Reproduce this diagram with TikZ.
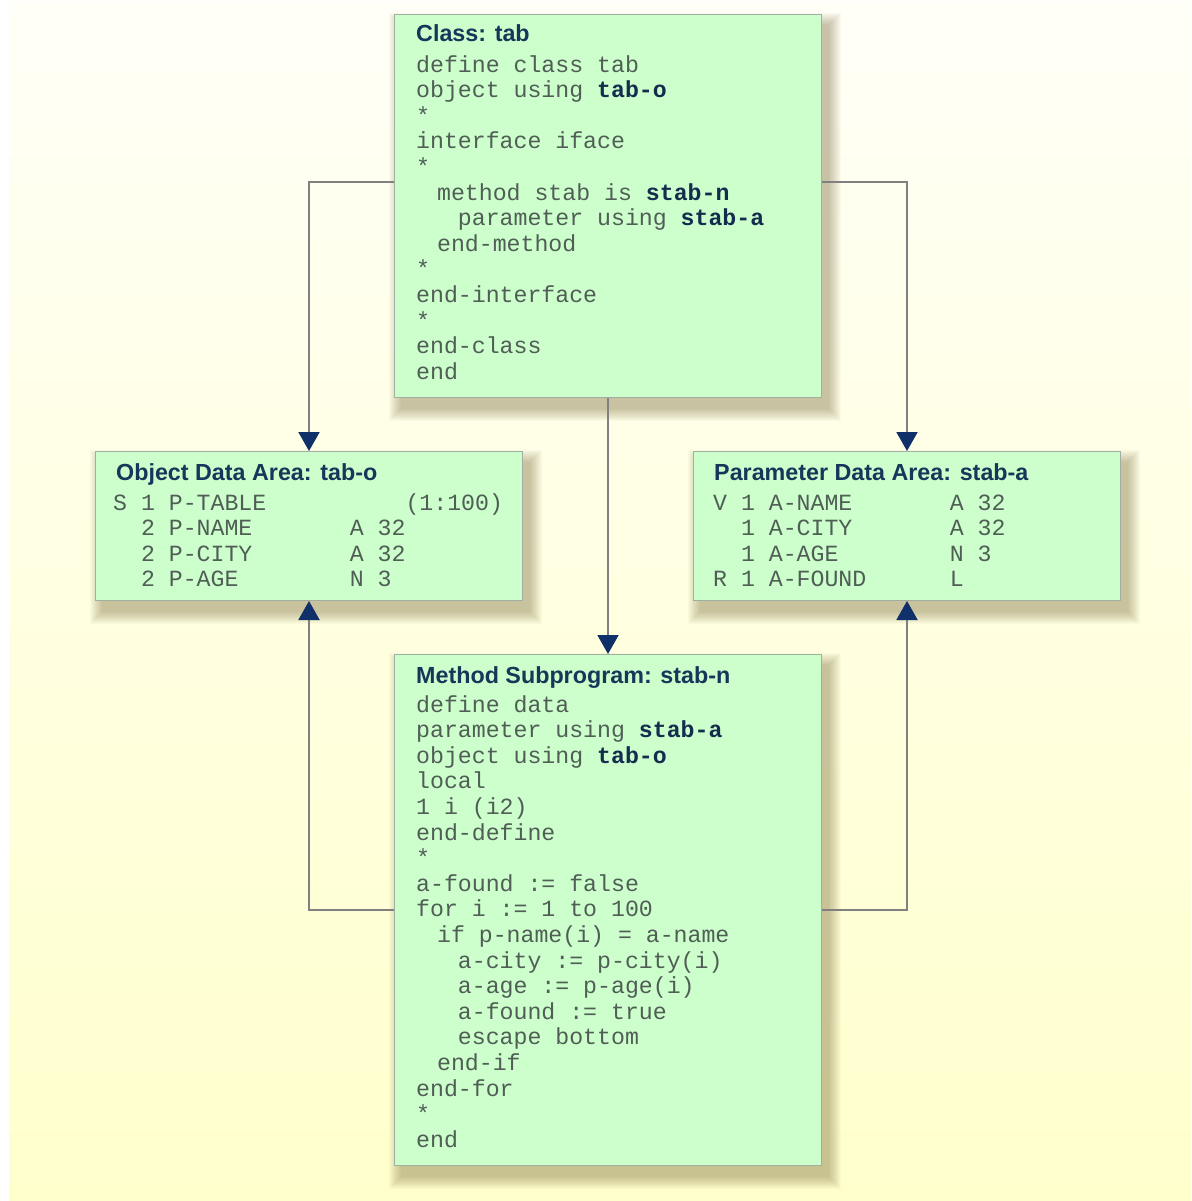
\documentclass[tikz,border=0pt]{standalone}
\usepackage{fontspec}
\usetikzlibrary{arrows.meta,backgrounds}
\newfontfamily\codefnt{Liberation Mono}
\newfontfamily\titlefnt{Liberation Sans}
\definecolor{bgtop}{RGB}{255,255,247}
\definecolor{bgbot}{RGB}{255,255,204}
\definecolor{boxfill}{RGB}{204,255,204}
\definecolor{boxline}{RGB}{160,176,160}
\definecolor{codecol}{RGB}{80,94,86}
\definecolor{navy}{RGB}{20,44,78}
\definecolor{titlecol}{RGB}{24,54,90}
\definecolor{linecol}{RGB}{128,128,128}
\definecolor{tipcol}{RGB}{16,48,106}
\definecolor{shadowcol}{RGB}{110,90,40}
\pgfdeclarelayer{bg}
\pgfsetlayers{bg,background,main}
\newlength\cw
\setlength\cw{13.92pt}
\newcommand\pad[1]{\hspace*{#1\cw}}
\newcommand\kw[1]{{\bfseries\color{navy}#1}}
\newcommand\panelshadow[1]{%
  \foreach \r in {0,1,...,12}{%
    \fill[shadowcol, opacity=0.032]
      ([shift={(7-\r,11-\r)}]#1.north west) rectangle ([shift={(7+\r,11+\r)}]#1.south east);
  }}
\tikzset{
  panel/.style={draw=boxline, line width=1pt, fill=boxfill, rectangle, inner sep=0pt,
    minimum width=427pt, anchor=north west},
  ttl/.style={anchor=base west, inner sep=0pt, text=titlecol, font=\titlefnt\bfseries\fontsize{23.3pt}{26pt}\selectfont},
  code/.style={anchor=base west, inner sep=0pt, align=left, text=codecol, font=\codefnt\fontsize{23.2pt}{25.6pt}\selectfont},
  conn/.style={draw=linecol, line width=2pt, -{Triangle[length=19pt,width=21pt,color=tipcol]}},
}
\begin{document}
\begin{tikzpicture}[x=1pt,y=-1pt]
\useasboundingbox (0,0) rectangle (1191,1201);
\begin{pgfonlayer}{bg}
\fill[white] (0,0) rectangle (1191,1201);
\shade[top color=bgtop, bottom color=bgbot] (9,2) rectangle (1191,1201);
\end{pgfonlayer}

\node[panel, minimum height=383pt] (cls) at (394,14) {};
\node[panel, minimum height=149pt] (obj) at (95,451) {};
\node[panel, minimum height=149pt] (par) at (693,451) {};
\node[panel, minimum height=511pt] (meth) at (394,654) {};

\begin{pgfonlayer}{background}
\panelshadow{cls}
\panelshadow{obj}
\panelshadow{par}
\panelshadow{meth}
\end{pgfonlayer}

% code nodes: base anchor = baseline of the last line
\node[ttl] (clsT) at (416,42) {Class: tab};
\node[code] (clsC) at (416,379.2) {define class tab\\
object using \kw{tab-o}\\
*\\
interface iface\\
*\\
\pad{1.5}method stab is \kw{stab-n}\\
\pad{3}parameter using \kw{stab-a}\\
\pad{1.5}end-method\\
*\\
end-interface\\
*\\
end-class\\
end};

\node[ttl] (objT) at (116,480) {Object Data Area: tab-o};
\node[code] (objC) at (113,586.8) {\makebox[21\cw][l]{S 1 P-TABLE}(1:100)\\
\makebox[17\cw][l]{\pad{2}2 P-NAME}A 32\\
\makebox[17\cw][l]{\pad{2}2 P-CITY}A 32\\
\makebox[17\cw][l]{\pad{2}2 P-AGE}N 3};

\node[ttl] (parT) at (714,480) {Parameter Data Area: stab-a};
\node[code] (parC) at (713,586.8) {\makebox[17\cw][l]{V 1 A-NAME}A 32\\
\makebox[17\cw][l]{\pad{2}1 A-CITY}A 32\\
\makebox[17\cw][l]{\pad{2}1 A-AGE}N 3\\
\makebox[17\cw][l]{R 1 A-FOUND}L};

\node[ttl] (methT) at (416,683) {Method Subprogram: stab-n};
\node[code] (methC) at (416,1147.2) {define data\\
parameter using \kw{stab-a}\\
object using \kw{tab-o}\\
local\\
1 i (i2)\\
end-define\\
*\\
a-found := false\\
for i := 1 to 100\\
\pad{1.5}if p-name(i) = a-name\\
\pad{3}a-city := p-city(i)\\
\pad{3}a-age := p-age(i)\\
\pad{3}a-found := true\\
\pad{3}escape bottom\\
\pad{1.5}end-if\\
end-for\\
*\\
end};

\draw[conn] ([yshift=23.5pt]cls.west) -| (obj.north);
\draw[conn] ([yshift=23.5pt]cls.east) -| (par.north);
\draw[conn] (cls.south) -- (meth.north);
\draw[conn] (meth.west) -| (obj.south);
\draw[conn] (meth.east) -| (par.south);
\end{tikzpicture}
\end{document}
